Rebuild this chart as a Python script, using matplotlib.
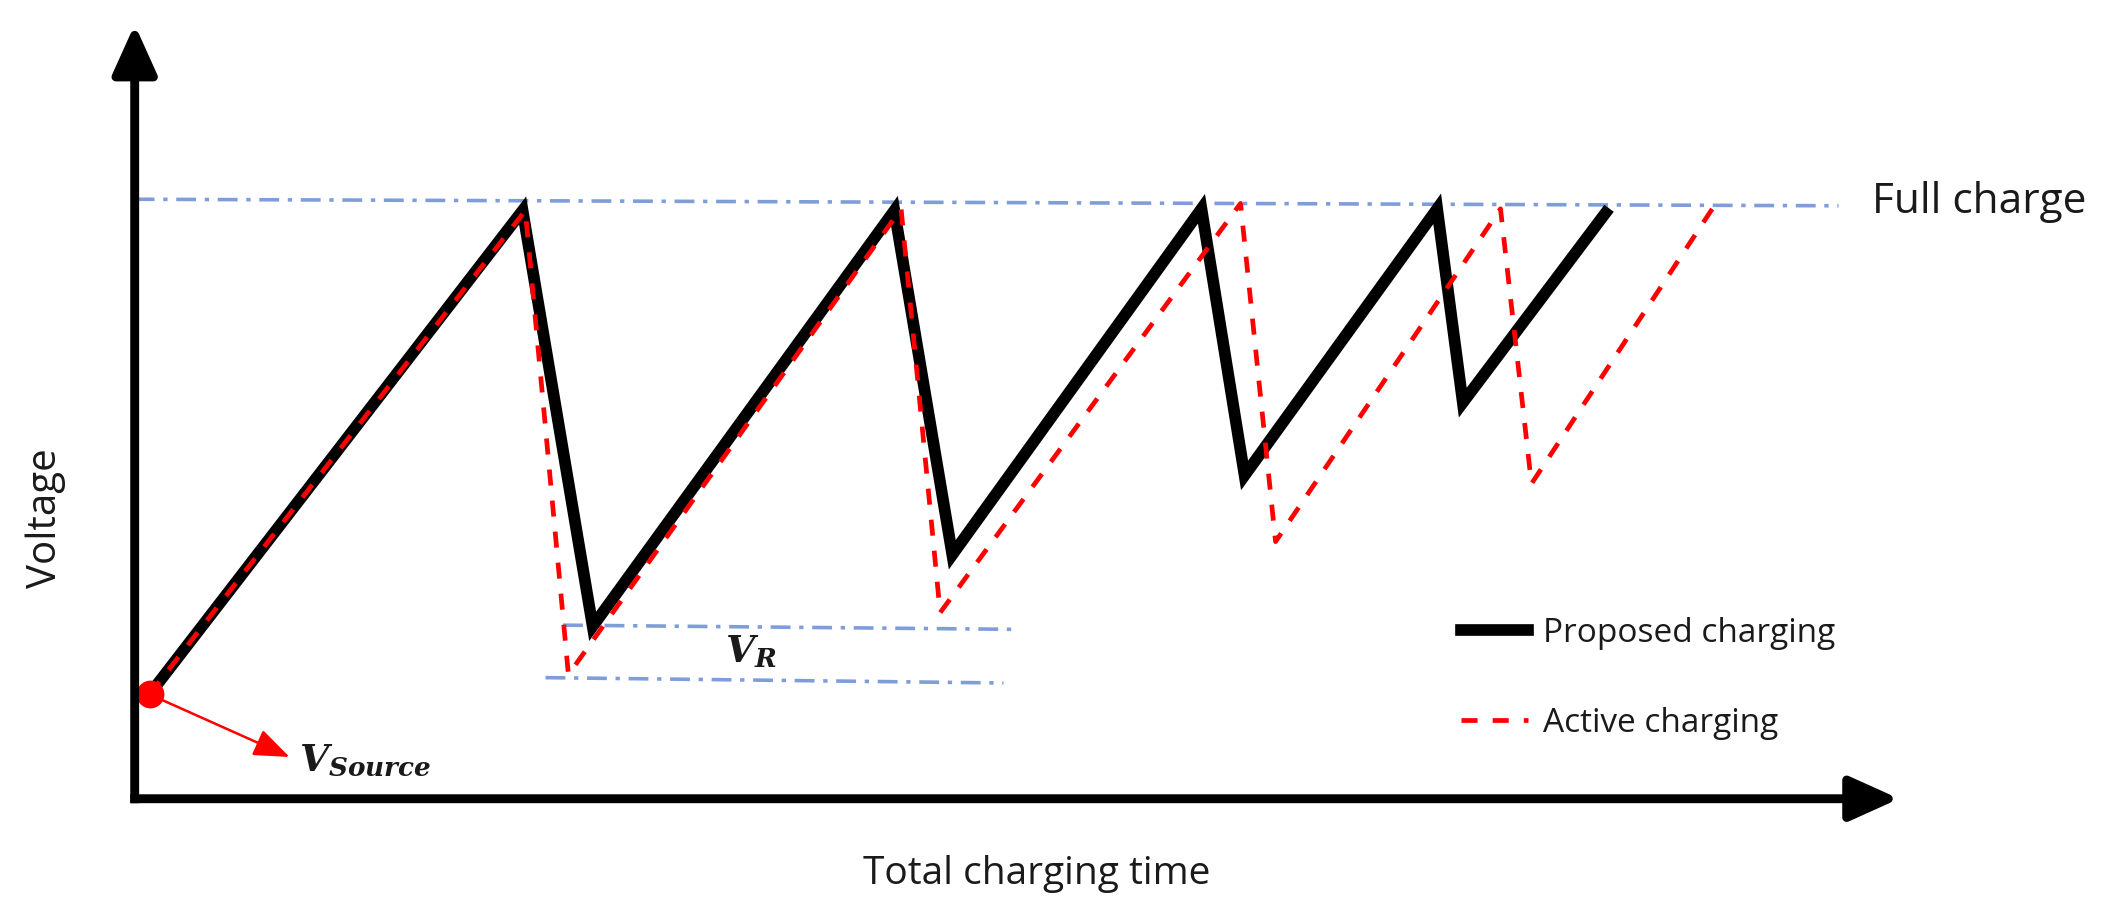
import matplotlib
matplotlib.use("Agg")
import matplotlib.pyplot as plt
from matplotlib.lines import Line2D

plt.rcParams['font.family'] = ['Open Sans', 'DejaVu Sans']
plt.rcParams['mathtext.fontset'] = 'custom'
plt.rcParams['mathtext.it'] = 'DejaVu Serif:italic:bold'
plt.rcParams['mathtext.rm'] = 'DejaVu Serif:bold'

# time / voltage (full charge ~ 100)
proposed_t = [1.1, 28.8, 34.0, 56.4, 60.7, 79.2, 82.4, 96.7, 98.6, 109.2]
proposed_v = [17.5, 98.6, 28.9, 98.6, 40.9, 98.9, 54.2, 98.9, 66.4, 98.2]
active_t = [1.1, 29.0, 32.2, 56.9, 59.8, 82.1, 84.7, 101.4, 103.7, 117.3]
active_v = [17.5, 98.6, 20.8, 98.9, 31.2, 99.8, 43.1, 98.9, 52.8, 99.5]

full_charge_t = [0.0, 126.5]
full_charge_v = [100.5, 99.4]
vr_upper_t = [31.8, 65.2]
vr_upper_v = [29.1, 28.4]
vr_lower_t = [30.5, 64.5]
vr_lower_v = [20.3, 19.4]

source_t, source_v = 1.1, 17.5
t_max, v_max = 131.0, 129.8

blue = '#7f9ed9'
dashdot = (0, (5.5, 2.4, 1.2, 2.4))
red_dash = (0, (3.4, 3.2))

fig = plt.figure(figsize=(21.12, 9.24), dpi=100)
ax = fig.add_axes([0, 0, 1, 1])
ax.set_xlim(-10, 146.8)
ax.set_ylim(-21.0, 133.9)
ax.axis('off')

# reference lines
ax.plot(full_charge_t, full_charge_v, color=blue, lw=2.6, linestyle=dashdot)
ax.plot(vr_upper_t, vr_upper_v, color=blue, lw=2.6, linestyle=dashdot)
ax.plot(vr_lower_t, vr_lower_v, color=blue, lw=2.6, linestyle=dashdot)

# axes with arrows
arrow_style = '-|>,head_length=3.0,head_width=1.35'
ax.annotate('', xy=(0, v_max), xytext=(0, -0.75),
            arrowprops=dict(arrowstyle=arrow_style, lw=6.4, color='black',
                            shrinkA=0, shrinkB=0, capstyle='butt'))
ax.annotate('', xy=(t_max, 0), xytext=(-0.33, 0),
            arrowprops=dict(arrowstyle=arrow_style, lw=6.4, color='black',
                            shrinkA=0, shrinkB=0, capstyle='butt'))

# charging curves
ax.plot(proposed_t, proposed_v, color='black', lw=8.4, solid_joinstyle='miter',
        label='Proposed charging')
ax.plot(active_t, active_v, color='#ff0000', lw=3.4, linestyle=red_dash,
        label='Active charging')

# source point and arrow
ax.plot([source_t], [source_v], 'o', color='#ff0000', markersize=19)
ax.annotate('', xy=(11.5, 7.0), xytext=(source_t, source_v),
            arrowprops=dict(arrowstyle='-|>,head_length=2.2,head_width=0.85',
                            lw=1.8, color='#ff0000', shrinkA=0, shrinkB=0))
ax.text(12.2, 6.2, r'$V_{Source}$', fontsize=27, ha='left', va='center', color='#1a1a1a')
ax.text(43.8, 24.6, r'$V_R$', fontsize=27, ha='left', va='center', color='#1a1a1a')

ax.text(129.0, 100.0, 'Full charge', fontsize=30.5, ha='left', va='center', color='#1a1a1a')
ax.text(67.0, -12.6, 'Total charging time', fontsize=28, ha='center', va='center',
        color='#1a1a1a')
ax.text(-6.6, 47.0, 'Voltage', fontsize=29, ha='center', va='center', rotation=90,
        color='#1a1a1a')

handles = [Line2D([], [], color='black', lw=8.4),
           Line2D([], [], color='#ff0000', lw=3.4, linestyle=red_dash)]
ax.legend(handles, ['Proposed charging', 'Active charging'], loc='upper left',
          bbox_to_anchor=(1461 / 2112, 1 - 617 / 924), frameon=False, fontsize=24,
          handlelength=2.0, handletextpad=0.45, labelspacing=1.7, borderpad=0,
          borderaxespad=0, labelcolor='#1a1a1a')

fig.savefig('out.png', dpi=100)
